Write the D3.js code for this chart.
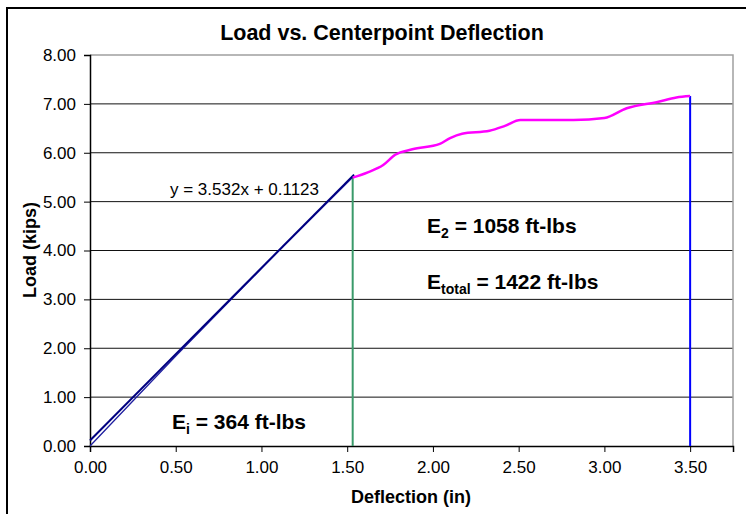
<!DOCTYPE html>
<html>
<head>
<meta charset="utf-8">
<script src="https://cdn.jsdelivr.net/npm/d3@7"></script>
<style>
  body { margin: 0; background: #fff; }
  text { font-family: "Liberation Sans", Arial, sans-serif; }
</style>
</head>
<body>
<svg id="chart" width="746" height="514"></svg>
<script>
// elastic (initial) part of the test
var linDeflection = [0.00, 0.50, 1.00, 1.10, 1.532];
var linLoad       = [0.00, 1.84, 3.63, 3.99, 5.50];

// after first peak
var plasDeflection = [1.532, 1.62, 1.71, 1.78, 1.88, 2.04, 2.10, 2.17, 2.33, 2.42, 2.51, 2.66, 2.82, 3.00, 3.13, 3.31, 3.42, 3.50];
var plasLoad       = [5.49, 5.60, 5.75, 5.96, 6.07, 6.18, 6.30, 6.39, 6.45, 6.55, 6.67, 6.67, 6.67, 6.71, 6.91, 7.04, 7.13, 7.16];

var trendSlope = 3.532, trendIntercept = 0.1123;
var trendRange = [0, 1.54];

var xTicks = [0, 0.5, 1.0, 1.5, 2.0, 2.5, 3.0, 3.5];
var yTicks = [0, 1, 2, 3, 4, 5, 6, 7, 8];

function drawChart(){
    var svg = d3.select("#chart");
    var pLeft = 90, pRight = 733, pTop = 55, pBottom = 446;

    var x = d3.scaleLinear().domain([0, 3.75]).range([pLeft, pRight]);
    var y = d3.scaleLinear().domain([0, 8]).range([pBottom, pTop]);

    // outer chart frame
    svg.append("rect")
       .attr("x", 7).attr("y", 8)
       .attr("width", 780).attr("height", 560)
       .attr("fill", "#fff")
       .attr("stroke", "#000")
       .attr("stroke-width", 2);

    // title
    svg.append("text")
       .attr("x", 382).attr("y", 40)
       .attr("text-anchor", "middle")
       .attr("font-size", "21.5px")
       .attr("font-weight", "bold")
       .text("Load vs. Centerpoint Deflection");

    // gridlines
    svg.append("g")
       .selectAll("line")
       .data(yTicks.filter(function(d){ return d > 0 && d < 8; }))
       .enter().append("line")
       .attr("x1", pLeft).attr("x2", pRight)
       .attr("y1", function(d){ return y(d); })
       .attr("y2", function(d){ return y(d); })
       .attr("stroke", "#111")
       .attr("stroke-width", 1);

    // plot border top/right
    svg.append("path")
       .attr("d", "M" + pLeft + "," + y(8) + "H" + pRight + "V" + pBottom)
       .attr("fill", "none")
       .attr("stroke", "#a0a0a0")
       .attr("stroke-width", 1.5);

    // axes
    var xAxis = svg.append("g")
       .attr("transform", "translate(0," + pBottom + ")")
       .call(d3.axisBottom(x).tickValues(xTicks).tickFormat(d3.format(".2f")).tickSize(6).tickPadding(9));
    var yAxis = svg.append("g")
       .attr("transform", "translate(" + pLeft + ",0)")
       .call(d3.axisLeft(y).tickValues(yTicks).tickFormat(d3.format(".2f")).tickSize(6).tickPadding(8));

    [xAxis, yAxis].forEach(function(a){
        a.select(".domain").attr("stroke", "#000").attr("stroke-width", 1.5);
        a.selectAll(".tick line").attr("stroke", "#000");
        a.selectAll(".tick text")
         .attr("font-family", "Liberation Sans, Arial, sans-serif")
         .attr("font-size", "17px")
         .attr("fill", "#000");
    });

    // axis titles
    svg.append("text")
       .attr("x", 411).attr("y", 503)
       .attr("text-anchor", "middle")
       .attr("font-size", "18px")
       .attr("font-weight", "bold")
       .text("Deflection (in)");

    svg.append("text")
       .attr("transform", "translate(36,250) rotate(-90)")
       .attr("text-anchor", "middle")
       .attr("font-size", "18px")
       .attr("font-weight", "bold")
       .text("Load (kips)");

    var line = d3.line()
       .x(function(d){ return x(d[0]); })
       .y(function(d){ return y(d[1]); });

    // vertical markers
    svg.append("line")
       .attr("x1", x(plasDeflection[0])).attr("x2", x(plasDeflection[0]))
       .attr("y1", y(0)).attr("y2", y(plasLoad[0]))
       .attr("stroke", "#3a9a6a").attr("stroke-width", 2);

    var last = plasDeflection.length - 1;
    svg.append("line")
       .attr("x1", x(plasDeflection[last])).attr("x2", x(plasDeflection[last]))
       .attr("y1", y(0)).attr("y2", y(plasLoad[last]))
       .attr("stroke", "#0000ff").attr("stroke-width", 2);

    // linear data
    svg.append("path")
       .datum(linDeflection.map(function(d, i){ return [d, linLoad[i]]; }))
       .attr("d", line)
       .attr("fill", "none")
       .attr("stroke", "#2020a0")
       .attr("stroke-width", 1.3);

    // trendline
    svg.append("path")
       .datum(trendRange.map(function(d){ return [d, trendSlope * d + trendIntercept]; }))
       .attr("d", line)
       .attr("fill", "none")
       .attr("stroke", "#000080")
       .attr("stroke-width", 2);

    // plastic part
    svg.append("path")
       .datum(plasDeflection.map(function(d, i){ return [d, plasLoad[i]]; }))
       .attr("d", line.curve(d3.curveMonotoneX))
       .attr("fill", "none")
       .attr("stroke", "#ff00ff")
       .attr("stroke-width", 2.5);

    // annotations
    svg.append("text")
       .attr("x", 170).attr("y", 195)
       .attr("font-size", "17px")
       .text("y = 3.532x + 0.1123");

    function energy(xp, yp, sub, rest){
        var t = svg.append("text")
           .attr("x", xp).attr("y", yp)
           .attr("font-size", "21px")
           .attr("font-weight", "bold");
        t.append("tspan").text("E");
        t.append("tspan").attr("font-size", "14px").attr("dy", 5).text(sub);
        t.append("tspan").attr("dy", -5).text(rest);
    }
    energy(172, 429, "i", " = 364 ft-lbs");
    energy(427, 233, "2", " = 1058 ft-lbs");
    energy(427, 289, "total", " = 1422 ft-lbs");
}
drawChart();
</script>
</body>
</html>
